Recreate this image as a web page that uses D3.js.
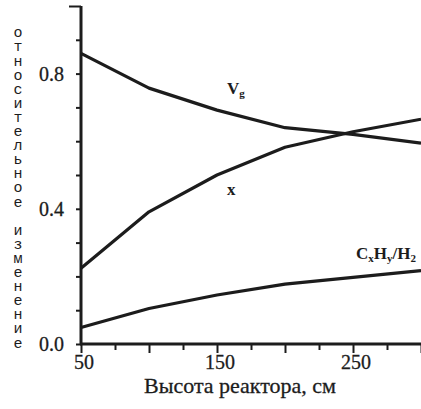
<!DOCTYPE html>
<html>
<head>
<meta charset="utf-8">
<script src="https://cdn.jsdelivr.net/npm/d3@7/dist/d3.min.js"></script>
<style>
  html, body { margin: 0; padding: 0; background: #fff; }
  svg { display: block; }
  .serif { font-family: "Liberation Serif", "Times New Roman", serif; }
  .mono { font-family: "Liberation Mono", "DejaVu Sans Mono", monospace; }
</style>
</head>
<body>
<svg id="chart" width="421" height="409"></svg>
<script>
// Reactor height (cm) at which each quantity was evaluated
const heights = [50, 100, 150, 200, 250, 300];
// Relative change of gas velocity Vg
const vgValues = [0.86, 0.757, 0.692, 0.64, 0.62, 0.594];
// Relative conversion x
const xValues = [0.224, 0.391, 0.50, 0.582, 0.628, 0.665];
// Relative hydrocarbon-to-hydrogen ratio CxHy/H2
const ratioValues = [0.049, 0.105, 0.145, 0.177, 0.197, 0.217];

const yTickLabels = [0.0, 0.4, 0.8];
const xTickLabels = [50, 150, 250];
const yAxisTitle = "относительное изменение";
const xAxisTitle = "Высота реактора, см";

const ink = "#1c1c1c";

const svg = d3.select("#chart");

const x = d3.scaleLinear().domain([50, 300]).range([81, 421]);
const y = d3.scaleLinear().domain([0, 1]).range([344, 6]);

// ---- axes ----
const yAxis = d3.axisLeft(y)
  .tickValues(d3.range(0, 11).map(i => i / 10))
  .tickSize(5)
  .tickFormat("");
const gy = svg.append("g").attr("transform", `translate(${x(50)},0)`).call(yAxis);
gy.select(".domain").remove();
gy.selectAll(".tick line").attr("stroke", ink).attr("stroke-width", 2)
  .attr("x2", d => d === 1 ? -12 : -5);

const xAxis = d3.axisBottom(x)
  .tickValues(d3.range(50, 301, 25))
  .tickSize(6)
  .tickFormat("");
const gx = svg.append("g").attr("transform", `translate(0,${y(0)})`).call(xAxis);
gx.select(".domain").remove();
gx.selectAll(".tick line").attr("stroke", ink).attr("stroke-width", 2)
  .attr("y2", d => d % 50 === 0 ? 9 : 6);

// axis lines
svg.append("line")
  .attr("x1", x(50)).attr("x2", x(50))
  .attr("y1", y(1)).attr("y2", y(0) + 1)
  .attr("stroke", ink).attr("stroke-width", 3);
svg.append("line")
  .attr("x1", x(50) - 1).attr("x2", x(300))
  .attr("y1", y(0)).attr("y2", y(0))
  .attr("stroke", ink).attr("stroke-width", 3);

// tick labels
svg.append("g").selectAll("text").data(yTickLabels).join("text")
  .attr("class", "serif")
  .attr("x", 64).attr("y", d => y(d))
  .attr("dy", "0.35em")
  .attr("text-anchor", "end")
  .attr("font-size", 20)
  .attr("fill", ink)
  .attr("stroke", ink).attr("stroke-width", 0.3)
  .text(d => d.toFixed(1));

svg.append("g").selectAll("text").data(xTickLabels).join("text")
  .attr("class", "serif")
  .attr("x", d => x(d) + 3).attr("y", 369)
  .attr("text-anchor", "middle")
  .attr("font-size", 20)
  .attr("fill", ink)
  .attr("stroke", ink).attr("stroke-width", 0.3)
  .text(d => d);

// axis titles
svg.append("text")
  .attr("class", "serif")
  .attr("x", 240).attr("y", 393)
  .attr("text-anchor", "middle")
  .attr("font-size", 22)
  .attr("fill", ink)
  .attr("stroke", ink).attr("stroke-width", 0.3)
  .text(xAxisTitle);

// vertical title: one upright letter per row
svg.append("g").selectAll("text").data(Array.from(yAxisTitle)).join("text")
  .attr("class", "mono")
  .attr("x", 18).attr("y", (d, i) => 32.5 + i * 14.1)
  .attr("dy", "0.32em")
  .attr("text-anchor", "middle")
  .attr("font-size", 15)
  .attr("fill", ink)
  .text(d => d);

// ---- curves ----
const line = d3.line()
  .x(d => x(d[0]))
  .y(d => y(d[1]));

[vgValues, xValues, ratioValues].forEach(values => {
  svg.append("path")
    .datum(heights.map((h, i) => [h, values[i]]))
    .attr("d", line)
    .attr("fill", "none")
    .attr("stroke", ink)
    .attr("stroke-width", 3.2)
    .attr("stroke-linejoin", "round");
});

// ---- curve labels ----
function label(px, py, parts) {
  const t = svg.append("text")
    .attr("class", "serif")
    .attr("x", px).attr("y", py)
    .attr("font-weight", "bold")
    .attr("font-size", 17).attr("fill", ink);
  let lowered = false;
  parts.forEach(([s, sub]) => {
    const ts = t.append("tspan").text(s);
    if (sub) {
      ts.attr("font-size", 11).attr("dy", lowered ? 0 : 3);
      lowered = true;
    } else {
      ts.attr("dy", lowered ? -3 : 0);
      lowered = false;
    }
  });
}
label(227, 94, [["V"], ["g", true]]);
label(227, 195, [["x"]]);
label(356, 259, [["C"], ["x", true], ["H"], ["y", true], ["/H"], ["2", true]]);
</script>
</body>
</html>
